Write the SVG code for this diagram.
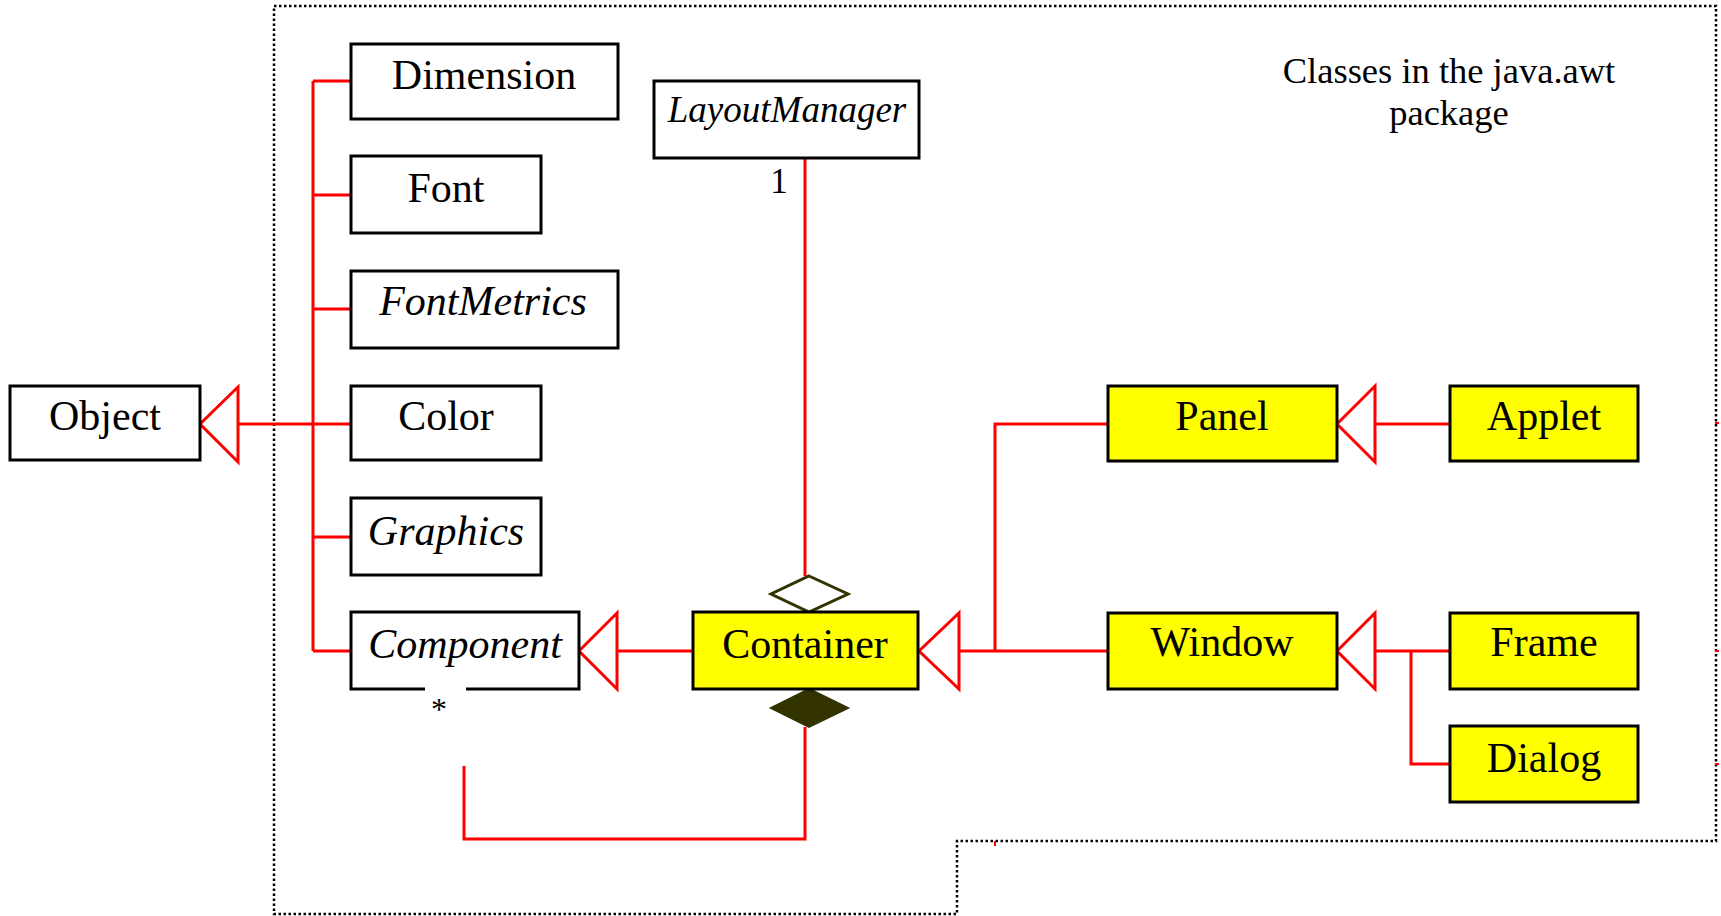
<svg xmlns="http://www.w3.org/2000/svg" width="1721" height="916" viewBox="0 0 1721 916">
  <style>
    .box { fill: #ffffff; stroke: #000000; stroke-width: 3; }
    .hot { fill: #ffff00; stroke: #000000; stroke-width: 3; }
    .lbl { font-family: "Liberation Serif", "Times New Roman", serif; font-size: 42px; fill: #000000; text-anchor: middle; }
    .it { font-style: italic; }
    .note { font-family: "Liberation Serif", "Times New Roman", serif; font-size: 36.5px; fill: #000000; text-anchor: middle; }
    .wire { fill: none; stroke: #ff0000; stroke-width: 3; }
    .gen { fill: #ffffff; stroke: #ff0000; stroke-width: 3; stroke-linejoin: miter; }
    .pkg { fill: none; stroke: #000000; stroke-width: 2.5; stroke-dasharray: 2.5 2.5; }
  </style>

  <!-- package boundary -->
  <g id="package">
    <path class="pkg" d="M274,6 H1716 V841 H957 V914 H274 Z"/>
    <g stroke="#ff0000" stroke-width="2">
      <line x1="1715" y1="423" x2="1719" y2="423"/>
      <line x1="1715" y1="651" x2="1719" y2="651"/>
      <line x1="1715" y1="764" x2="1719" y2="764"/>
      <line x1="995" y1="841" x2="995" y2="846"/>
    </g>
    <text class="note" x="1449" y="83">Classes in the java.awt</text>
    <text class="note" x="1449" y="125">package</text>
  </g>

  <!-- connectors -->
  <g id="connectors">
    <!-- Object hierarchy trunk -->
    <polyline class="wire" points="238,424 351,424"/>
    <polyline class="wire" points="313,81 313,651"/>
    <polyline class="wire" points="313,81 351,81"/>
    <polyline class="wire" points="313,195 351,195"/>
    <polyline class="wire" points="313,309 351,309"/>
    <polyline class="wire" points="313,537 351,537"/>
    <polyline class="wire" points="313,651 351,651"/>
    <polygon class="gen" points="200,424 238,387 238,462"/>

    <!-- Container extends Component -->
    <polyline class="wire" points="617,651 693,651"/>
    <polygon class="gen" points="579,651 617,613 617,689"/>

    <!-- Panel / Window extend Container -->
    <polyline class="wire" points="959,651 1108,651"/>
    <polyline class="wire" points="995,651 995,424 1108,424"/>
    <polygon class="gen" points="919,651 959,613 959,689"/>

    <!-- Applet extends Panel -->
    <polyline class="wire" points="1375,424 1450,424"/>
    <polygon class="gen" points="1337,424 1375,386 1375,462"/>

    <!-- Frame / Dialog extend Window -->
    <polyline class="wire" points="1375,651 1450,651"/>
    <polyline class="wire" points="1411,651 1411,764 1450,764"/>
    <polygon class="gen" points="1337,651 1375,613 1375,689"/>

    <!-- aggregation: Container has a LayoutManager -->
    <polyline class="wire" points="805,158 805,576"/>
    <polygon points="809,576 848,594 809,612 771,594" fill="#ffffff" stroke="#333300" stroke-width="3"/>
    <text class="lbl" x="779" y="193" style="font-size:35px">1</text>

    <!-- composition: Container holds Components -->
    <polyline class="wire" points="805,727 805,839 464,839 464,766"/>
    <polygon points="809,689 848,708 809,727 771,708" fill="#333300" stroke="#333300" stroke-width="2"/>
    <text class="lbl" x="439" y="720" style="font-size:32px">*</text>
  </g>

  <g id="Object">
    <rect class="box" x="10" y="386" width="190" height="74"/>
    <text class="lbl" x="105" y="430">Object</text>
  </g>
  <g id="Dimension">
    <rect class="box" x="351" y="44" width="267" height="75"/>
    <text class="lbl" x="484" y="89">Dimension</text>
  </g>
  <g id="Font">
    <rect class="box" x="351" y="156" width="190" height="77"/>
    <text class="lbl" x="446" y="202">Font</text>
  </g>
  <g id="FontMetrics">
    <rect class="box" x="351" y="271" width="267" height="77"/>
    <text class="lbl it" x="483" y="315">FontMetrics</text>
  </g>
  <g id="Color">
    <rect class="box" x="351" y="386" width="190" height="74"/>
    <text class="lbl" x="446" y="430">Color</text>
  </g>
  <g id="Graphics">
    <rect class="box" x="351" y="498" width="190" height="77"/>
    <text class="lbl it" x="446" y="545">Graphics</text>
  </g>
  <g id="Component">
    <rect x="351" y="612" width="228" height="77" fill="#ffffff"/>
    <path d="M425,689 H351 V612 H579 V689 H466" fill="none" stroke="#000000" stroke-width="3"/>
    <text class="lbl it" x="465" y="658">Component</text>
  </g>
  <g id="LayoutManager">
    <rect class="box" x="654" y="81" width="265" height="77"/>
    <text class="lbl it" x="787" y="122" style="font-size:37px">LayoutManager</text>
  </g>
  <g id="Container">
    <rect class="hot" x="693" y="612" width="225" height="77"/>
    <text class="lbl" x="805" y="658">Container</text>
  </g>
  <g id="Panel">
    <rect class="hot" x="1108" y="386" width="229" height="75"/>
    <text class="lbl" x="1222" y="430">Panel</text>
  </g>
  <g id="Applet">
    <rect class="hot" x="1450" y="386" width="188" height="75"/>
    <text class="lbl" x="1544" y="430">Applet</text>
  </g>
  <g id="Window">
    <rect class="hot" x="1108" y="613" width="229" height="76"/>
    <text class="lbl" x="1222" y="656">Window</text>
  </g>
  <g id="Frame">
    <rect class="hot" x="1450" y="613" width="188" height="76"/>
    <text class="lbl" x="1544" y="656">Frame</text>
  </g>
  <g id="Dialog">
    <rect class="hot" x="1450" y="726" width="188" height="76"/>
    <text class="lbl" x="1544" y="772">Dialog</text>
  </g>
</svg>
